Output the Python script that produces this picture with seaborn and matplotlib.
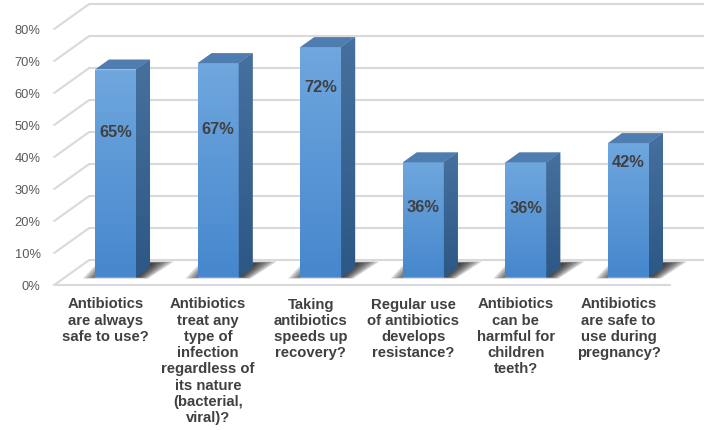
import numpy as np
import matplotlib
matplotlib.use("Agg")
import matplotlib.pyplot as plt
import seaborn as sns
from matplotlib.patches import Polygon
from matplotlib.transforms import offset_copy
from matplotlib.ticker import PercentFormatter

# ---------------- data ----------------
categories = [
    "Antibiotics\nare always\nsafe to use?",
    "Antibiotics\ntreat any\ntype of\ninfection\nregardless of\nits nature\n(bacterial,\nviral)?",
    "Taking\nantibiotics\nspeeds up\nrecovery?",
    "Regular use\nof antibiotics\ndevelops\nresistance?",
    "Antibiotics\ncan be\nharmful for\nchildren\nteeth?",
    "Antibiotics\nare safe to\nuse during\npregnancy?",
]
values = [0.65, 0.67, 0.72, 0.36, 0.36, 0.42]
y_ticks = [0.0, 0.1, 0.2, 0.3, 0.4, 0.5, 0.6, 0.7, 0.8]

# label heights (style: where each value label sits on its bar)
label_at = [0.453, 0.462, 0.594, 0.219, 0.216, 0.359]

# ---------------- style ----------------
sns.set_theme(style="white")
plt.rcParams['font.family'] = ['Liberation Sans', 'DejaVu Sans']

W, H = 704, 430
fig = plt.figure(figsize=(W / 100, H / 100), dpi=100)
ax_left, ax_bottom, ax_w, ax_h = 54.2, 145.0, 615.6, 256.0
ax = fig.add_axes([ax_left / W, ax_bottom / H, ax_w / W, ax_h / H])

front_top = np.array([111, 167, 222]) / 255
front_bot = np.array([70, 135, 205]) / 255
side_top = np.array([70, 112, 158]) / 255
side_bot = np.array([45, 88, 134]) / 255
top_col = np.array([80, 125, 175]) / 255
grid_col = "#d9d9d9"

sns.barplot(x=list(range(len(values))), y=values, ax=ax, color=front_top,
            width=0.4, saturation=1, zorder=5)
ax.set_xlim(-0.5, len(values) - 0.5)
ax.set_ylim(0, 0.8)

# pixel -> data conversion
px_x = ax_w / (len(values))          # px per x unit
px_y = ax_h / 0.8                    # px per y unit

# bar plane offset from front plane (pixels)
bar_dx, bar_dy = 10, 7.5
bar_tr = offset_copy(ax.transData, fig=fig, x=bar_dx, y=bar_dy, units='dots')
# bar depth
ddx, ddy = 14 / px_x, 10 / px_y
# back wall offset from front plane
wall_dx, wall_dy = 35 / px_x, 25 / px_y

xl0, xl1 = ax.get_xlim()

# gridlines (3D wall)
for v in y_ticks:
    if v == 0:
        ax.plot([xl0, xl1], [v, v], color=grid_col, lw=1.5, clip_on=False, zorder=1)
    ax.plot([xl0, xl0 + wall_dx], [v, v + wall_dy], color=grid_col, lw=1.5,
            clip_on=False, zorder=1)
    ax.plot([xl0 + wall_dx, xl1 + wall_dx + 0.2], [v + wall_dy, v + wall_dy],
            color=grid_col, lw=1.5, clip_on=False, zorder=1)

grad_front = np.linspace(front_top, front_bot, 64).reshape(64, 1, 3)
grad_side = np.linspace(side_top, side_bot, 64).reshape(64, 1, 3)

for i, p in enumerate(list(ax.patches)):
    x0 = p.get_x()
    w = p.get_width()
    x1 = x0 + w
    h = p.get_height()
    p.set_transform(bar_tr)
    p.set_edgecolor("none")
    p.set_clip_on(False)

    # shadow on floor (soft)
    sx = [-12 / px_x, (w * px_x + 12) / px_x, (w * px_x + 38) / px_x, 4 / px_x]
    sy = [-1 / px_y, -1 / px_y, 16 / px_y, 16 / px_y]
    pts = np.array([[x0 + a, b] for a, b in zip(sx, sy)])
    c = pts.mean(axis=0)
    for k, s in enumerate(np.linspace(1.0, 0.45, 9)):
        q = c + (pts - c) * np.array([s, 0.55 + 0.45 * s])
        ax.add_patch(Polygon(q, closed=True, facecolor="black", edgecolor="none",
                             alpha=0.17, transform=bar_tr, zorder=2, clip_on=False))

    # front gradient
    im = ax.imshow(grad_front, extent=(x0, x1, 0, h), aspect='auto',
                   transform=bar_tr, zorder=5, clip_on=True)
    im.set_clip_path(p)

    # side face
    side = Polygon([[x1, 0], [x1 + ddx, ddy], [x1 + ddx, h + ddy], [x1, h]],
                   closed=True, facecolor=side_top, edgecolor="none",
                   transform=bar_tr, zorder=5, clip_on=False)
    ax.add_patch(side)
    ims = ax.imshow(grad_side, extent=(x1, x1 + ddx, 0, h + ddy), aspect='auto',
                    transform=bar_tr, zorder=5)
    ims.set_clip_path(side)

    # top face
    ax.add_patch(Polygon([[x0, h], [x1, h], [x1 + ddx, h + ddy], [x0 + ddx, h + ddy]],
                         closed=True, facecolor=top_col, edgecolor="none",
                         transform=bar_tr, zorder=6, clip_on=False))

    # value label
    ax.text((x0 + x1) / 2, label_at[i], f"{values[i]:.0%}", transform=bar_tr,
            ha="center", va="center", fontsize=11.8, fontweight="bold",
            color="#404040", zorder=8)

ax.set_xlim(xl0, xl1)
ax.set_ylim(0, 0.8)

ax.set_yticks(y_ticks)
ax.yaxis.set_major_formatter(PercentFormatter(1.0, decimals=0))
ax.set_xticks(range(len(categories)))
ax.set_xticklabels(categories, fontsize=10.7, fontweight="bold", color="#404040",
                   linespacing=1.2)
ax.tick_params(axis="y", length=0, pad=9.7, labelsize=9.3, labelcolor="#595959")
ax.tick_params(axis="x", length=0, pad=9)
for s in ax.spines.values():
    s.set_visible(False)
ax.set_xlabel("")
ax.set_ylabel("")
ax.grid(False)

fig.savefig("out.png", dpi=100, facecolor="white")
